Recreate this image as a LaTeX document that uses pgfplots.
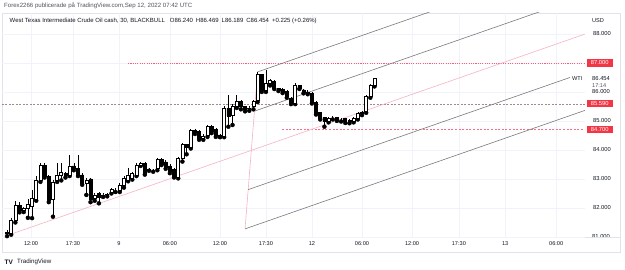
\documentclass[border=0pt]{standalone}
\usepackage{pgfplots}
\pgfplotsset{compat=1.18}
\usepackage{pgfplotstable}
\usepackage{fontspec}
\setmainfont{Liberation Sans}
\definecolor{tvtext}{HTML}{131722}
\definecolor{tvgray}{HTML}{50535E}
\definecolor{tvred}{HTML}{F23645}
\definecolor{pfgray}{HTML}{7A7A7A}
\definecolor{pfpink}{HTML}{F6B3C4}
\definecolor{gridc}{HTML}{F0F3FA}
\definecolor{framec}{HTML}{E0E3EB}
\definecolor{lvlA}{HTML}{FF5C7C}
\definecolor{lvlB}{HTML}{A8868C}
\definecolor{lvlC}{HTML}{FF6A86}

\pgfplotstableread{
x o h l c
0 81.12 81.25 81.03 81.17
1 81.14 81.67 81.08 81.59
2 81.59 82.25 81.50 82.10
3 82.10 82.20 81.85 81.91
4 81.91 82.05 81.86 82.00
5 82.00 82.30 81.66 82.14
6 82.05 82.62 81.65 82.32
7 82.30 83.10 82.25 82.97
8 82.97 83.55 82.90 83.48
9 83.48 83.55 83.05 83.10
10 83.08 83.12 82.20 82.28
11 82.30 82.95 81.70 82.90
12 82.95 83.54 82.90 83.14
13 83.12 83.55 82.95 83.22
14 83.20 83.25 83.05 83.14
15 83.14 83.83 83.10 83.45
16 83.45 83.55 83.30 83.37
17 83.37 83.83 83.10 83.14
18 83.14 83.20 82.80 82.85
19 82.85 83.03 82.45 82.97
20 83.00 83.05 82.20 82.30
21 82.33 82.50 82.25 82.45
22 82.50 82.55 82.16 82.37
23 82.42 82.50 82.38 82.45
24 82.46 82.52 82.40 82.48
25 82.55 82.68 82.50 82.64
26 82.62 82.68 82.55 82.62
27 82.62 82.85 82.55 82.79
28 82.79 83.10 82.70 83.02
29 82.97 83.38 82.92 83.14
30 83.03 83.25 82.98 83.20
31 83.14 83.55 83.10 83.48
32 83.48 83.58 83.45 83.54
33 83.54 83.58 83.15 83.20
34 83.32 83.38 83.28 83.33
35 83.30 83.35 83.25 83.30
36 83.37 83.72 83.30 83.66
37 83.66 83.72 83.48 83.52
38 83.59 83.65 83.35 83.40
39 83.45 83.50 83.20 83.25
40 83.33 83.38 83.05 83.08
41 83.06 83.75 83.02 83.71
42 83.71 84.25 83.60 84.20
43 84.20 84.22 83.85 84.10
44 84.10 84.72 84.05 84.67
45 84.67 84.72 84.55 84.62
46 84.63 84.68 84.35 84.40
47 84.41 84.55 84.35 84.48
48 84.50 84.85 84.45 84.80
49 84.80 84.85 84.58 84.63
50 84.70 84.75 84.45 84.52
51 84.52 84.55 84.44 84.48
52 84.48 85.50 84.44 85.44
53 85.44 85.90 84.80 85.17
54 85.20 85.60 84.86 85.50
55 85.49 85.90 85.45 85.67
56 85.67 85.72 85.40 85.49
57 85.49 85.52 85.33 85.40
58 85.42 85.50 85.35 85.45
59 85.49 85.72 85.40 85.67
60 85.70 86.69 85.65 86.59
61 86.59 86.62 86.00 86.07
62 86.07 86.76 86.00 86.30
63 86.28 86.45 86.22 86.39
64 86.36 86.40 86.10 86.13
65 86.13 86.15 86.03 86.07
66 86.10 86.14 85.96 86.00
67 86.01 86.05 85.80 85.84
68 85.78 85.82 85.58 85.61
69 85.62 86.30 85.58 86.21
70 86.21 86.25 86.10 86.13
71 86.07 86.10 85.95 85.98
72 86.00 86.05 85.92 85.96
73 85.96 86.00 85.60 85.64
74 85.64 85.67 85.22 85.27
75 85.28 85.32 85.05 85.09
76 85.12 85.15 84.80 84.98
77 85.00 85.15 84.95 85.10
78 85.12 85.18 85.05 85.12
79 85.12 85.15 85.00 85.04
80 85.05 85.10 84.98 85.05
81 85.09 85.10 84.93 84.97
82 84.97 85.06 84.92 85.02
83 84.99 85.13 84.95 85.10
84 85.10 85.30 85.05 85.27
85 85.27 85.33 85.20 85.30
86 85.32 85.88 85.28 85.84
87 85.84 86.28 85.80 86.24
88 86.24 86.469 86.189 86.454
}\candles

\pgfplotsset{
  tvgeom/.style={
    at={(2pt,33pt)}, anchor=south west, scale only axis,
    width=583pt, height=224pt,
    xmin=-1.2, xmax=138.4, ymin=81.0, ymax=88.72,
    enlargelimits=false, clip=true,
  }
}

\begin{document}
\begin{tikzpicture}[x=1pt,y=1pt]
\path[use as bounding box] (0,0) rectangle (625,270);
\fill[white] (0,0) rectangle (625,270);
\draw[framec, line width=0.5pt] (2,18) rectangle (620,257);
\draw[framec, line width=0.5pt] (2,33) -- (620,33);
% ---- main axis: grid, levels, pitchfork, wicks
\begin{axis}[
  tvgeom,
  axis line style={draw=none}, tick style={draw=none},
  xtick={5.75,15.8,26.8,39,51,62,73,85,97,108.2,119.3,131.5},
  xticklabels={12:00,17:30,9,06:00,12:00,17:30,12,06:00,12:00,17:30,13,06:00},
  ytick={81,82,83,84,85,86,87,88},
  yticklabels={{},82.000,83.000,84.000,85.000,{},{},88.000},
  yticklabel pos=right,
  grid=major, major grid style={gridc, line width=0.5pt},
  xticklabel style={font=\fontsize{5.6}{6}\selectfont, text=tvtext, yshift=-1pt},
  yticklabel style={font=\fontsize{5.8}{6}\selectfont, text=tvtext, anchor=west, xshift=4.5pt},
]
\addplot[lvlA, line width=0.8pt, dash pattern=on 1.1pt off 1.2pt, forget plot] coordinates {(29,87) (138.4,87)};
\addplot[lvlB, line width=0.55pt, dash pattern=on 2pt off 1.5pt, forget plot] coordinates {(-1.2,85.59) (138.4,85.59)};
\addplot[lvlC, line width=0.75pt, dash pattern=on 2pt off 1.6pt, forget plot] coordinates {(65.9,84.7) (138.4,84.7)};
\addplot[pfpink, line width=0.6pt, forget plot] coordinates {(-0.4,81.03) (138.4,87.994)};
\addplot[pfpink, line width=0.6pt, forget plot] coordinates {(57,81.28) (60,86.69)};
\addplot[pfgray, line width=0.6pt, forget plot] coordinates {(60,86.69) (138.4,90.623)};
\addplot[pfgray, line width=0.6pt, forget plot] coordinates {(59.25,85.3375) (138.4,89.308)};
\addplot[pfgray, line width=0.6pt, forget plot] coordinates {(57.75,82.6325) (134.8,86.498)};
\addplot[pfgray, line width=0.6pt, forget plot] coordinates {(57,81.28) (138.4,85.364)};
\addplot[only marks, mark=none, forget plot,
  error bars/.cd, y dir=plus, y explicit, error mark=none,
  error bar style={draw=black, line width=0.6pt, line cap=butt}]
  table[x=x, y=l, y error plus expr=\thisrow{h}-\thisrow{l}] {\candles};
\end{axis}
% ---- bodies: stacked bars on an identical, hidden axis
\begin{axis}[
  tvgeom, hide axis,
  ybar stacked, bar width=3pt,
]
\addplot[draw=none, fill=none, forget plot] table[x=x, y expr={min(\thisrow{o},\thisrow{c})}] {\candles};
\addplot[draw=black, fill=white, line width=0.65pt, forget plot] table[x=x, y expr={max(0,\thisrow{c}-\thisrow{o})}] {\candles};
\addplot[draw=black, fill=black, line width=0.65pt, forget plot] table[x=x, y expr={max(0,\thisrow{o}-\thisrow{c})}] {\candles};
\end{axis}
% header texts
\node[anchor=west, inner sep=0pt, text=tvgray, font=\fontsize{6.1}{7}\selectfont] at (4,264) {Forex2266 publicerade på TradingView.com,Sep 12, 2022 07:42 UTC};
\node[anchor=west, inner sep=0pt, text=tvtext, font=\fontsize{6.0}{7}\selectfont] at (9.5,249.3) {West Texas Intermediate Crude Oil cash, 30, BLACKBULL\hspace{5pt}O86.240\hspace{3pt}H86.469\hspace{3pt}L86.189\hspace{3pt}C86.454\hspace{3pt}+0.225 (+0.26\%)};
% right scale labels
\node[anchor=west, inner sep=0pt, text=tvtext, font=\fontsize{5.6}{6}\selectfont] at (592,249) {USD};
\node[anchor=west, inner sep=0pt, text=tvtext, font=\fontsize{5.8}{6}\selectfont] at (592,191.2) {86.454};
\node[anchor=west, inner sep=0pt, text=tvgray, font=\fontsize{5.6}{6}\selectfont] at (592,184.6) {17:14};
\begin{scope}
\clip (588,174) rectangle (620,181.5);
\node[anchor=west, inner sep=0pt, text=tvtext, font=\fontsize{5.8}{6}\selectfont] at (592,178) {86.000};
\end{scope}
\begin{scope}
\clip (588,33.3) rectangle (620,40);
\node[anchor=west, inner sep=0pt, text=tvtext, font=\fontsize{5.8}{6}\selectfont] at (592,33) {81.000};
\end{scope}
\node[anchor=west, fill=tvred, text=white, inner sep=0pt, minimum width=26pt, minimum height=7.5pt, font=\fontsize{5.8}{6}\selectfont] at (586.5,207) {87.000};
\node[anchor=west, fill=tvred, text=white, inner sep=0pt, minimum width=26pt, minimum height=7.5pt, font=\fontsize{5.8}{6}\selectfont] at (586.5,166.5) {85.590};
\node[anchor=west, fill=tvred, text=white, inner sep=0pt, minimum width=26pt, minimum height=7.5pt, font=\fontsize{5.8}{6}\selectfont] at (586.5,140.3) {84.700};
\node[anchor=west, inner sep=0pt, text=tvtext, font=\fontsize{5.6}{6}\selectfont] at (572,191) {WTI};
% bottom logo
\node[anchor=west, inner sep=0pt, text=tvtext, font=\fontsize{6.5}{7}\selectfont\bfseries] at (4.5,8) {TV};
\node[anchor=west, inner sep=0pt, text=tvtext, font=\fontsize{6.2}{7}\selectfont] at (17,8) {TradingView};
\end{tikzpicture}
\end{document}
